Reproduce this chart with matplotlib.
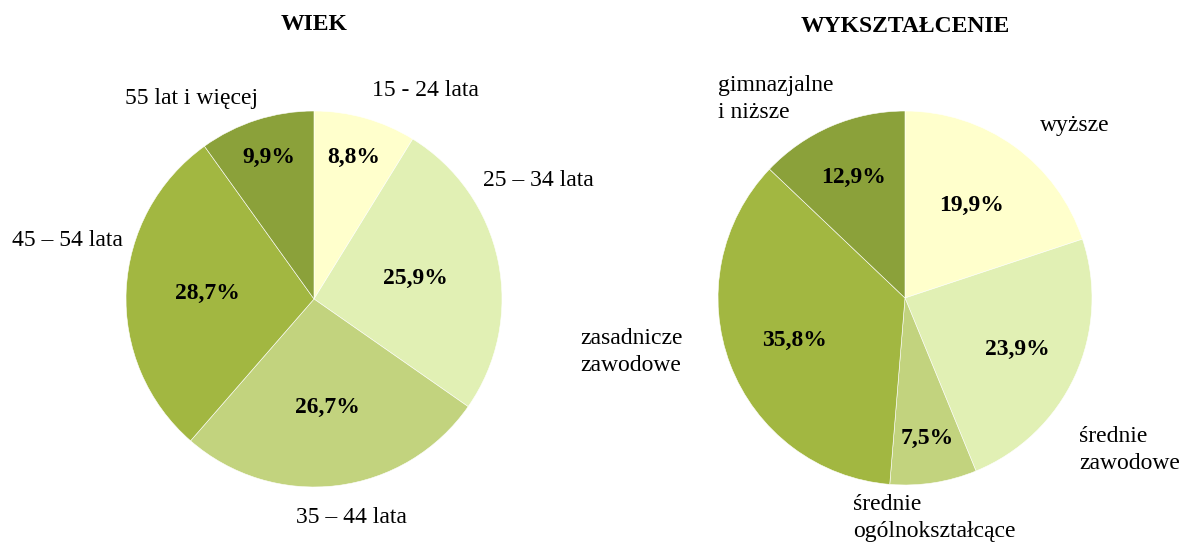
import numpy as np
import matplotlib.pyplot as plt

plt.rcParams['font.family'] = ['Liberation Serif', 'DejaVu Serif']

# Data (clockwise from 12 o'clock)
age_labels = ['15 - 24 lata', '25 – 34 lata', '35 – 44 lata', '45 – 54 lata', '55 lat i więcej']
age_values = [8.8, 25.9, 26.7, 28.7, 9.9]

edu_labels = ['wyższe', 'średnie\nzawodowe', 'średnie\nogólnokształcące',
              'zasadnicze\nzawodowe', 'gimnazjalne\ni niższe']
edu_values = [19.9, 23.9, 7.5, 35.8, 12.9]

colors = ['#FFFFCC', '#E1F0B4', '#C2D37E', '#A2B741', '#8BA13A']

# label layout (in pie-radius units)
age_pct_dist = [0.78, 0.55, 0.58, 0.57, 0.79]
age_lbl_pos = [(0.31, 1.11, 'left'), (0.90, 0.63, 'left'), (0.20, -1.16, 'center'),
               (-1.314, 0.31, 'center'), (-0.654, 1.064, 'center')]
edu_pct_dist = [0.61, 0.66, 0.76, 0.63, 0.70]
edu_lbl_pos = [(0.909, 0.925, 'center'), (0.930, -0.813, 'left'), (-0.278, -1.176, 'left'),
               (-1.738, -0.289, 'left'), (-1.0, 1.064, 'left')]

W, H = 1185, 546
fig = plt.figure(figsize=(W / 100, H / 100), dpi=100)


def draw(cx, cy, r, values, labels, pct_dist, lbl_pos, title, ty):
    ax = fig.add_axes([(cx - r) / W, (H - cy - r) / H, 2 * r / W, 2 * r / H])
    wedges, _ = ax.pie(values, colors=colors, startangle=90, counterclock=False,
                       radius=1, wedgeprops=dict(edgecolor='white', linewidth=0.4))
    for w, v, d in zip(wedges, values, pct_dist):
        ang = np.deg2rad((w.theta1 + w.theta2) / 2)
        ax.text(d * np.cos(ang), d * np.sin(ang), f'{v:.1f}%'.replace('.', ','),
                ha='center', va='center', fontsize=17, fontweight='bold')
    for lab, (x, y, ha) in zip(labels, lbl_pos):
        ax.text(x, y, lab, ha=ha, va='center', fontsize=17, linespacing=1.35)
    ax.set_xlim(-1, 1)
    ax.set_ylim(-1, 1)
    ax.set_aspect('equal')
    ax.axis('off')
    fig.text(cx / W, 1 - ty / H, title, ha='center', va='center',
             fontsize=17, fontweight='bold')


draw(314, 299, 188, age_values, age_labels, age_pct_dist, age_lbl_pos, 'WIEK', 25)
draw(905, 298, 187, edu_values, edu_labels, edu_pct_dist, edu_lbl_pos, 'WYKSZTAŁCENIE', 27)

fig.savefig('out.png', dpi=100, facecolor='white')
